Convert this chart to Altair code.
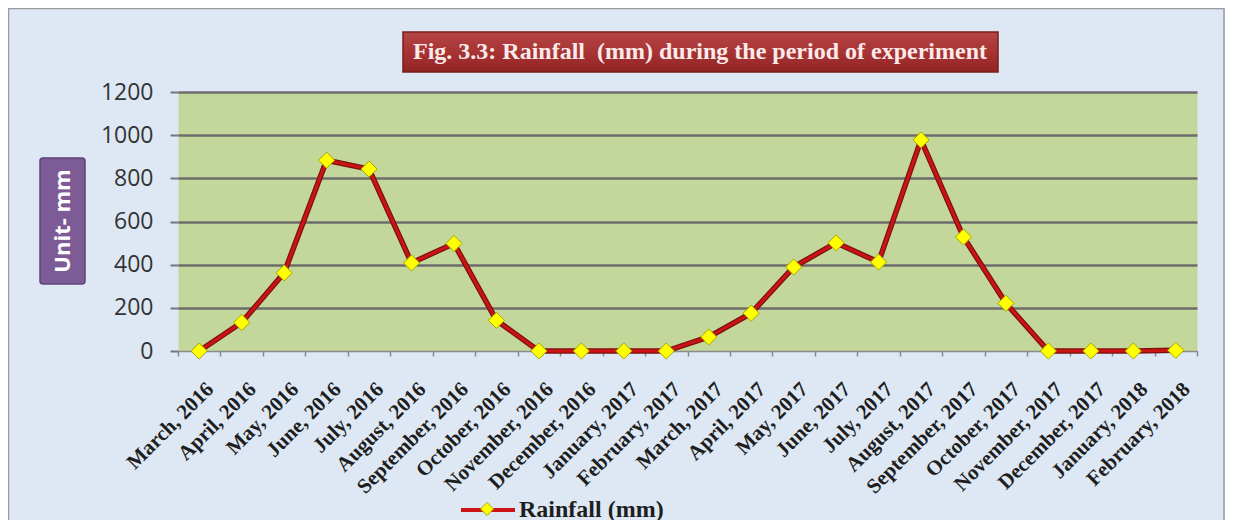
import altair as alt
import pandas as pd

months = ["March, 2016", "April, 2016", "May, 2016", "June, 2016", "July, 2016",
          "August, 2016", "September, 2016", "October, 2016", "November, 2016",
          "December, 2016", "January, 2017", "February, 2017", "March, 2017",
          "April, 2017", "May, 2017", "June, 2017", "July, 2017", "August, 2017",
          "September, 2017", "October, 2017", "November, 2017", "December, 2017",
          "January, 2018", "February, 2018"]
rainfall = [0, 132, 362, 884, 843, 408, 498, 142, 0, 0, 0, 0,
            65, 175, 389, 501, 412, 978, 528, 221, 0, 0, 0, 3]
y_ticks = [0, 200, 400, 600, 800, 1000, 1200]
series_name = "Rainfall (mm)"
title_text = "Fig. 3.3: Rainfall \u00a0(mm) during the period of experiment"
y_title = "Unit- mm"

df = pd.DataFrame({"month": months, "rain": rainfall,
                   "series": [series_name] * len(months),
                   "series2": [series_name + " "] * len(months)})
one = pd.DataFrame({"k": [0]})

W, H = 1019, 259
PL, PT, PR, PB = 170, 84, 28, 181

x_enc = alt.X("month:N", sort=months,
              scale=alt.Scale(type="band", paddingInner=0, paddingOuter=0),
              axis=alt.Axis(title=None, labelAngle=-45, labelAlign="right",
                            labelBaseline="top", labelPadding=22, labelOffset=3,
                            labelFont="Liberation Serif", labelFontWeight="bold",
                            labelFontSize=21, labelColor="#1e1e1e",
                            tickBand="extent", tickSize=5, tickColor="#8a8a8a",
                            tickWidth=1.5, domainColor="#8a8a8a", domainWidth=1.5,
                            grid=False, labelOverlap=False))
y_enc = alt.Y("rain:Q", scale=alt.Scale(domain=[0, 1200], nice=False),
              axis=alt.Axis(title=None, values=y_ticks, format="d", labelFont="Open Sans",
                            labelFontSize=23, labelColor="#333333", labelPadding=17,
                            tickSize=8, tickColor="#757575", tickWidth=2,
                            domain=False, grid=True, gridColor="#6c6c6c",
                            gridWidth=alt.condition("datum.value === 0", alt.value(1.2), alt.value(2.6))))

border = alt.Chart(one).mark_rect(filled=False, stroke="#9a9a9a", strokeWidth=1.5).encode(
    x=alt.value(-PL + 0.5), x2=alt.value(W + PR - 1), y=alt.value(-PT + 0.5), y2=alt.value(H + PB + 20))

title_box = alt.Chart(one).mark_rect(
    color=alt.LinearGradient(gradient="linear", x1=0, x2=0, y1=0, y2=1,
                             stops=[alt.GradientStop(color="#b54545", offset=0),
                                    alt.GradientStop(color="#a83333", offset=0.5),
                                    alt.GradientStop(color="#922424", offset=1)]),
    stroke="#7a1c1c", strokeWidth=1.5).encode(
    x=alt.value(225), x2=alt.value(820), y=alt.value(-60), y2=alt.value(-20))
title_mark = alt.Chart(one).mark_text(
    text=title_text, font="Liberation Serif", fontWeight="bold", fontSize=24,
    color="#fbeaea", align="center", baseline="middle").encode(
    x=alt.value(522), y=alt.value(-40))

unit_box = alt.Chart(one).mark_rect(color="#7d5b97", stroke="#5f427a", strokeWidth=1.5,
                                    cornerRadius=3).encode(
    x=alt.value(-138), x2=alt.value(-93), y=alt.value(66), y2=alt.value(192))
unit_text = alt.Chart(one).mark_text(
    text=y_title, font="Open Sans", fontWeight="bold", fontSize=22, color="#ffffff",
    angle=270, align="center", baseline="middle").encode(
    x=alt.value(-115.5), y=alt.value(129))

line_outer = alt.Chart(df).mark_line(color="#7d0f0f", strokeWidth=5.5).encode(x=x_enc, y=y_enc)
line_inner = alt.Chart(df).mark_line(strokeWidth=3).encode(
    x=x_enc, y=y_enc,
    stroke=alt.Stroke("series:N", scale=alt.Scale(range=["#cc1414"]),
                      legend=alt.Legend(title=None, orient="none", legendX=281, legendY=389,
                                        symbolType="stroke", symbolSize=2916,
                                        symbolStrokeWidth=4, labelOffset=2,
                                        labelFont="Liberation Serif", labelFontWeight="bold",
                                        labelFontSize=24, labelColor="#1e1e1e")))
points = alt.Chart(df).mark_point(shape="diamond", filled=True, size=260, opacity=1,
                                  stroke="#a6a600", strokeWidth=1).encode(
    x=x_enc, y=y_enc,
    fill=alt.Fill("series2:N", scale=alt.Scale(range=["#ffff00"]),
                  legend=alt.Legend(title=None, orient="none", legendX=301.5, legendY=409.5,
                                    symbolType="diamond", symbolSize=170,
                                    symbolStrokeColor="#a6a600", symbolStrokeWidth=1,
                                    labelFontSize=1, labelOpacity=0)))

chart = alt.layer(border, title_box, title_mark, unit_box, unit_text,
                  line_outer, line_inner, points).properties(
    width=W, height=H,
    autosize=alt.AutoSizeParams(type="none"),
    padding={"left": PL, "top": PT, "right": PR, "bottom": PB},
    background="#dde8f4",
).resolve_scale(stroke="independent", fill="independent").configure_view(
    fill="#c4d79b", stroke="transparent")

chart.save("out.html", embed_options={"renderer": "svg", "actions": False})
